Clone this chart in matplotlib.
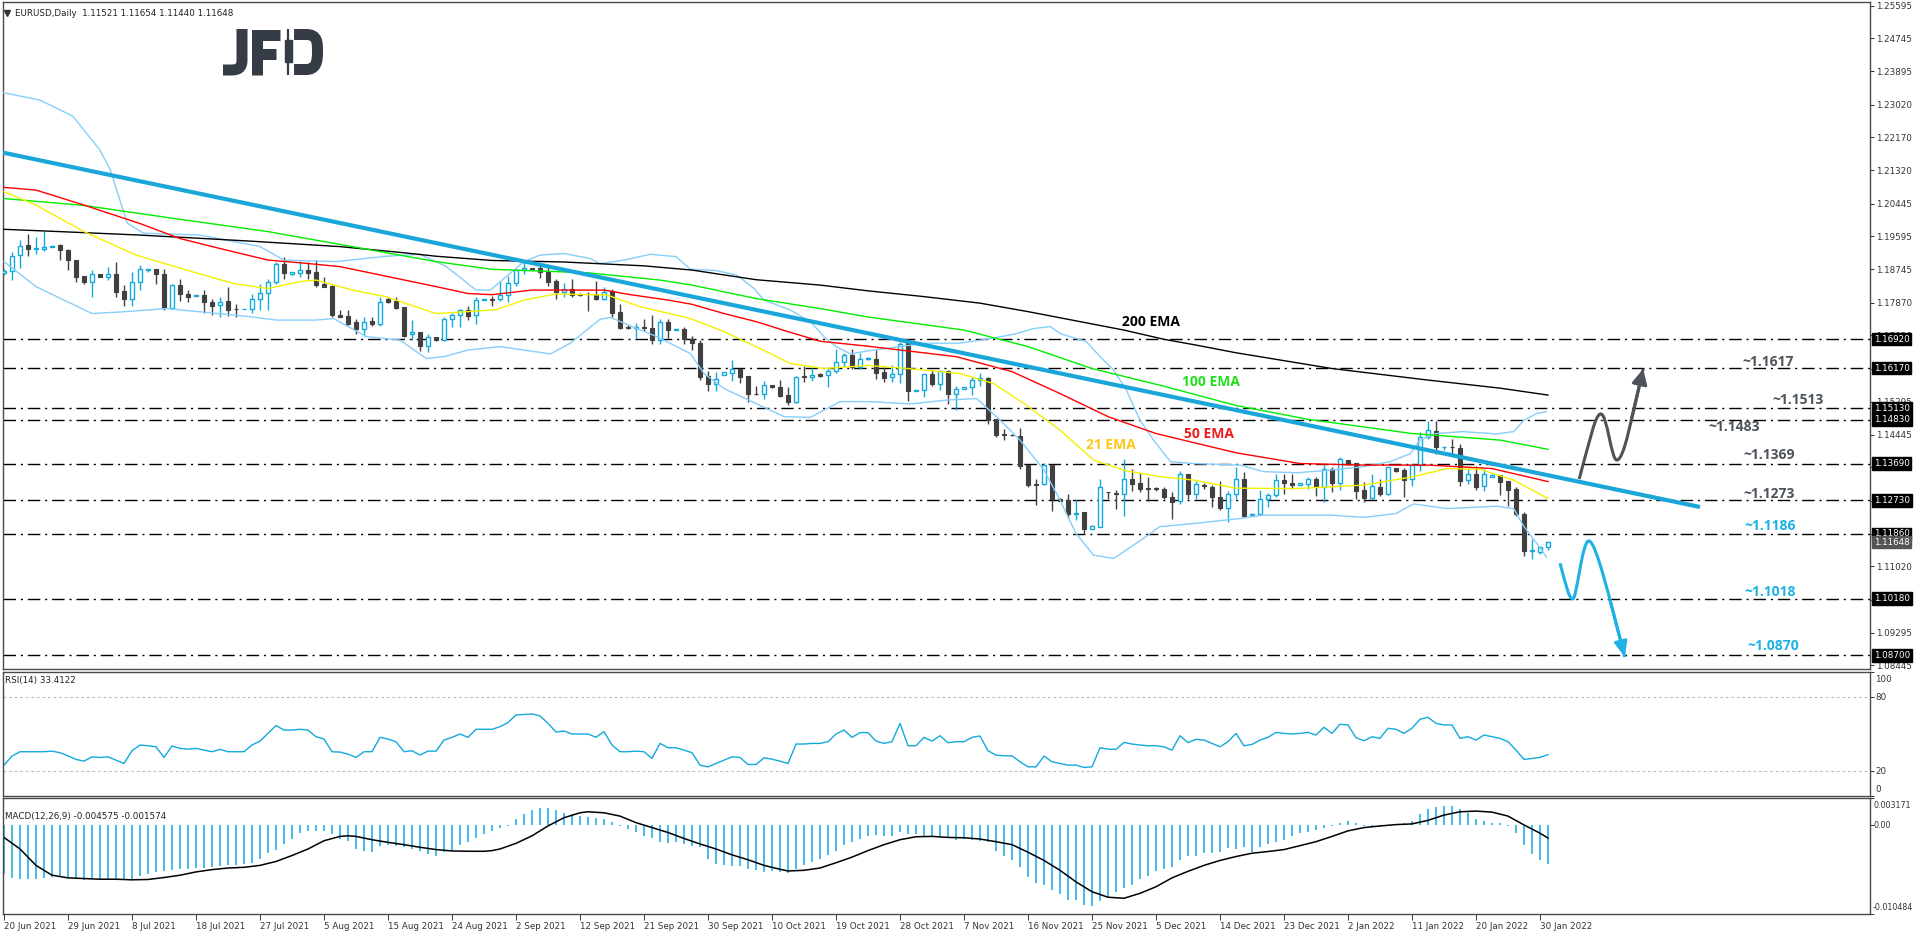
import numpy as np
import matplotlib
matplotlib.use("Agg")
import matplotlib.pyplot as plt
from matplotlib.path import Path
from matplotlib.patches import PathPatch, Rectangle
from matplotlib.transforms import Affine2D

plt.rcParams['font.family'] = ['DejaVu Sans']

# ---------------- data ----------------
date_labels = ['20 Jun 2021', '29 Jun 2021', '8 Jul 2021', '18 Jul 2021', '27 Jul 2021',
               '5 Aug 2021', '15 Aug 2021', '24 Aug 2021', '2 Sep 2021', '12 Sep 2021',
               '21 Sep 2021', '30 Sep 2021', '10 Oct 2021', '19 Oct 2021', '28 Oct 2021',
               '7 Nov 2021', '16 Nov 2021', '25 Nov 2021', '5 Dec 2021', '14 Dec 2021',
               '23 Dec 2021', '2 Jan 2022', '11 Jan 2022', '20 Jan 2022', '30 Jan 2022']

opens = [1.1865, 1.1869, 1.1910, 1.1936, 1.1927, 1.1927, 1.1933, 1.1937, 1.1924, 1.1898,
         1.1856, 1.1842, 1.1862, 1.1855, 1.1862, 1.1817, 1.1796, 1.1842, 1.1872, 1.1875,
         1.1861, 1.1774, 1.1832, 1.1811, 1.1804, 1.1807, 1.1790, 1.1780, 1.1791, 1.1771,
         1.1770, 1.1771, 1.1798, 1.1813, 1.1842, 1.1888, 1.1861, 1.1865, 1.1872, 1.1867,
         1.1835, 1.1830, 1.1755, 1.1752, 1.1737, 1.1719, 1.1739, 1.1733, 1.1796, 1.1792,
         1.1775, 1.1705, 1.1710, 1.1675, 1.1697, 1.1690, 1.1744, 1.1754, 1.1767, 1.1754,
         1.1794, 1.1796, 1.1796, 1.1808, 1.1839, 1.1871, 1.1878, 1.1877, 1.1870, 1.1843,
         1.1816, 1.1822, 1.1810, 1.1810, 1.1809, 1.1797, 1.1817, 1.1762, 1.1723, 1.1722,
         1.1724, 1.1722, 1.1690, 1.1738, 1.1717, 1.1718, 1.1693, 1.1682, 1.1596, 1.1577,
         1.1598, 1.1605, 1.1614, 1.1596, 1.1551, 1.1550, 1.1573, 1.1567, 1.1546, 1.1530,
         1.1596, 1.1595, 1.1603, 1.1598, 1.1609, 1.1632, 1.1651, 1.1621, 1.1640, 1.1642,
         1.1607, 1.1593, 1.1601, 1.1683, 1.1558, 1.1560, 1.1601, 1.1577, 1.1610, 1.1550,
         1.1564, 1.1567, 1.1586, 1.1592, 1.1484, 1.1445, 1.1444, 1.1441, 1.1365, 1.1316,
         1.1315, 1.1365, 1.1278, 1.1274, 1.1239, 1.1242, 1.1200, 1.1205, 1.1296, 1.1292,
         1.1291, 1.1328, 1.1318, 1.1305, 1.1305, 1.1302, 1.1281, 1.1271, 1.1341, 1.1291,
         1.1312, 1.1307, 1.1282, 1.1254, 1.1289, 1.1330, 1.1234, 1.1237, 1.1276, 1.1286,
         1.1326, 1.1319, 1.1313, 1.1317, 1.1328, 1.1309, 1.1356, 1.1319, 1.1378, 1.1371,
         1.1300, 1.1280, 1.1308, 1.1290, 1.1357, 1.1352, 1.1328, 1.1364, 1.1437, 1.1454,
         1.1411, 1.1413, 1.1409, 1.1327, 1.1341, 1.1311, 1.1335, 1.1338, 1.1323, 1.1302,
         1.1239, 1.1142, 1.1138, 1.11521]
highs = [1.1875, 1.1920, 1.1950, 1.1967, 1.1959, 1.1974, 1.1936, 1.1941, 1.1928, 1.1898,
         1.1856, 1.1872, 1.1863, 1.1879, 1.1892, 1.1832, 1.1867, 1.1885, 1.1874, 1.1875,
         1.1876, 1.1837, 1.1848, 1.1820, 1.1806, 1.1820, 1.1798, 1.1801, 1.1827, 1.1783,
         1.1772, 1.1811, 1.1837, 1.1848, 1.1892, 1.1905, 1.1868, 1.1895, 1.1894, 1.1897,
         1.1855, 1.1834, 1.1768, 1.1768, 1.1744, 1.1751, 1.1751, 1.1801, 1.1801, 1.1801,
         1.1777, 1.1742, 1.1712, 1.1707, 1.1697, 1.1751, 1.1761, 1.1772, 1.1778, 1.1801,
         1.1797, 1.1804, 1.1843, 1.1857, 1.1876, 1.1894, 1.1878, 1.1885, 1.1881, 1.1849,
         1.1838, 1.1849, 1.1813, 1.1816, 1.1843, 1.1829, 1.1822, 1.1785, 1.1728, 1.1735,
         1.1746, 1.1755, 1.1746, 1.1744, 1.1719, 1.1725, 1.1701, 1.1690, 1.1609, 1.1606,
         1.1606, 1.1638, 1.1618, 1.1596, 1.1570, 1.1583, 1.1573, 1.1586, 1.1567, 1.1597,
         1.1622, 1.1617, 1.1605, 1.1621, 1.1667, 1.1657, 1.1667, 1.1656, 1.1645, 1.1664,
         1.1619, 1.1625, 1.1686, 1.1688, 1.1561, 1.1603, 1.1612, 1.1612, 1.1611, 1.1570,
         1.1568, 1.1595, 1.1605, 1.1595, 1.1484, 1.1458, 1.1445, 1.1462, 1.1365, 1.1330,
         1.1371, 1.1367, 1.1279, 1.1289, 1.1274, 1.1242, 1.1208, 1.1328, 1.1296, 1.1300,
         1.1381, 1.1356, 1.1345, 1.1335, 1.1309, 1.1309, 1.1296, 1.1350, 1.1341, 1.1323,
         1.1319, 1.1313, 1.1323, 1.1298, 1.1361, 1.1346, 1.1241, 1.1300, 1.1293, 1.1341,
         1.1341, 1.1342, 1.1318, 1.1335, 1.1335, 1.1365, 1.1361, 1.1387, 1.1379, 1.1371,
         1.1322, 1.1343, 1.1330, 1.1361, 1.1357, 1.1357, 1.1371, 1.1450, 1.1480, 1.1480,
         1.1413, 1.1433, 1.1420, 1.1354, 1.1363, 1.1356, 1.1343, 1.1339, 1.1323, 1.1309,
         1.1244, 1.1172, 1.1151, 1.11654]
lows = [1.1860, 1.1846, 1.1878, 1.1908, 1.1915, 1.1922, 1.1932, 1.1898, 1.1872, 1.1842,
        1.1835, 1.1803, 1.1854, 1.1846, 1.1803, 1.1778, 1.1779, 1.1820, 1.1866, 1.1835,
        1.1768, 1.1771, 1.1792, 1.1790, 1.1804, 1.1761, 1.1754, 1.1749, 1.1753, 1.1750,
        1.1770, 1.1761, 1.1768, 1.1769, 1.1836, 1.1848, 1.1860, 1.1855, 1.1849, 1.1827,
        1.1827, 1.1751, 1.1749, 1.1729, 1.1707, 1.1701, 1.1727, 1.1727, 1.1787, 1.1772,
        1.1699, 1.1690, 1.1662, 1.1659, 1.1687, 1.1687, 1.1725, 1.1723, 1.1742, 1.1733,
        1.1794, 1.1778, 1.1792, 1.1790, 1.1831, 1.1862, 1.1875, 1.1851, 1.1831, 1.1797,
        1.1801, 1.1803, 1.1805, 1.1765, 1.1794, 1.1794, 1.1751, 1.1720, 1.1720, 1.1696,
        1.1714, 1.1680, 1.1681, 1.1696, 1.1716, 1.1680, 1.1664, 1.1586, 1.1558, 1.1558,
        1.1598, 1.1584, 1.1578, 1.1528, 1.1547, 1.1537, 1.1566, 1.1543, 1.1522, 1.1527,
        1.1582, 1.1584, 1.1595, 1.1569, 1.1605, 1.1621, 1.1616, 1.1616, 1.1638, 1.1590,
        1.1582, 1.1582, 1.1579, 1.1532, 1.1557, 1.1543, 1.1571, 1.1560, 1.1524, 1.1508,
        1.1563, 1.1547, 1.1570, 1.1472, 1.1439, 1.1430, 1.1441, 1.1354, 1.1307, 1.1261,
        1.1313, 1.1246, 1.1271, 1.1228, 1.1222, 1.1186, 1.1199, 1.1204, 1.1277, 1.1252,
        1.1233, 1.1298, 1.1296, 1.1272, 1.1298, 1.1278, 1.1224, 1.1265, 1.1276, 1.1278,
        1.1304, 1.1257, 1.1248, 1.1218, 1.1278, 1.1229, 1.1232, 1.1235, 1.1257, 1.1281,
        1.1289, 1.1303, 1.1312, 1.1302, 1.1285, 1.1270, 1.1296, 1.1300, 1.1366, 1.1277,
        1.1270, 1.1277, 1.1285, 1.1287, 1.1348, 1.1283, 1.1310, 1.1350, 1.1434, 1.1395,
        1.1404, 1.1391, 1.1311, 1.1316, 1.1300, 1.1298, 1.1334, 1.1287, 1.1258, 1.1233,
        1.1128, 1.1120, 1.1134, 1.11440]
closes = [1.1870, 1.1908, 1.1935, 1.1927, 1.1930, 1.1933, 1.1935, 1.1923, 1.1897, 1.1855,
          1.1842, 1.1861, 1.1855, 1.1861, 1.1816, 1.1796, 1.1842, 1.1874, 1.1874, 1.1861,
          1.1774, 1.1832, 1.1810, 1.1801, 1.1806, 1.1789, 1.1779, 1.1790, 1.1769, 1.1770,
          1.1772, 1.1798, 1.1813, 1.1842, 1.1888, 1.1865, 1.1867, 1.1872, 1.1865, 1.1832,
          1.1829, 1.1755, 1.1751, 1.1731, 1.1719, 1.1738, 1.1733, 1.1790, 1.1790, 1.1774,
          1.1700, 1.1710, 1.1675, 1.1697, 1.1689, 1.1744, 1.1755, 1.1767, 1.1753, 1.1793,
          1.1796, 1.1794, 1.1806, 1.1838, 1.1871, 1.1877, 1.1876, 1.1868, 1.1842, 1.1816,
          1.1822, 1.1807, 1.1808, 1.1809, 1.1797, 1.1816, 1.1761, 1.1722, 1.1722, 1.1725,
          1.1722, 1.1690, 1.1738, 1.1717, 1.1718, 1.1694, 1.1683, 1.1595, 1.1577, 1.1590,
          1.1606, 1.1614, 1.1595, 1.1550, 1.1550, 1.1572, 1.1567, 1.1545, 1.1530, 1.1595,
          1.1594, 1.1598, 1.1597, 1.1609, 1.1632, 1.1651, 1.1621, 1.1640, 1.1643, 1.1605,
          1.1592, 1.1601, 1.1681, 1.1558, 1.1560, 1.1601, 1.1577, 1.1610, 1.1550, 1.1564,
          1.1567, 1.1586, 1.1592, 1.1482, 1.1443, 1.1443, 1.1442, 1.1363, 1.1313, 1.1314,
          1.1365, 1.1277, 1.1272, 1.1239, 1.1241, 1.1200, 1.1207, 1.1307, 1.1294, 1.1289,
          1.1328, 1.1317, 1.1304, 1.1304, 1.1302, 1.1281, 1.1270, 1.1341, 1.1291, 1.1316,
          1.1310, 1.1281, 1.1254, 1.1289, 1.1330, 1.1232, 1.1237, 1.1276, 1.1286, 1.1325,
          1.1319, 1.1312, 1.1318, 1.1328, 1.1309, 1.1356, 1.1319, 1.1382, 1.1368, 1.1298,
          1.1280, 1.1310, 1.1290, 1.1359, 1.1350, 1.1326, 1.1364, 1.1437, 1.1455, 1.1413,
          1.1413, 1.1411, 1.1324, 1.1341, 1.1309, 1.1342, 1.1339, 1.1322, 1.1300, 1.1239,
          1.1142, 1.1145, 1.1151, 1.11648]

ema200_x = [0, 7, 17, 25, 31, 42, 50, 54, 61, 70, 80, 86, 94, 102, 108, 115, 122, 128, 134,
            140, 145, 149, 154, 166, 178, 187, 193]
ema200_y = [1.1978, 1.1972, 1.1963, 1.1954, 1.1947, 1.1933, 1.1917, 1.1908, 1.1897, 1.1893,
            1.1883, 1.1872, 1.1847, 1.1833, 1.1818, 1.1803, 1.1786, 1.1764, 1.1740, 1.1716,
            1.1692, 1.1677, 1.1657, 1.1616, 1.1586, 1.1565, 1.1547]
ema100_x = [0, 10, 21, 33, 43, 54, 61, 73, 82, 86, 94, 102, 108, 120, 128, 136, 145, 154,
            163, 176, 187, 193]
ema100_y = [1.2058, 1.2040, 1.2007, 1.1972, 1.1935, 1.1894, 1.1874, 1.1865, 1.1846, 1.1833,
            1.1798, 1.1772, 1.1750, 1.1716, 1.1673, 1.1616, 1.1570, 1.1520, 1.1484, 1.1447,
            1.1430, 1.1406]
ema50_x = [0, 4, 10, 17, 22, 27, 33, 37, 42, 48, 54, 58, 61, 66, 75, 78, 83, 86, 90, 94,
           98, 102, 108, 119, 126, 132, 138, 144, 154, 162, 170, 178, 186, 193]
ema50_y = [1.2087, 1.2080, 1.2041, 1.1993, 1.1954, 1.1928, 1.1898, 1.1891, 1.1881, 1.1855,
           1.1829, 1.1811, 1.1808, 1.1820, 1.1820, 1.1809, 1.1794, 1.1783, 1.1759, 1.1738,
           1.1712, 1.1687, 1.1674, 1.1647, 1.1608, 1.1551, 1.1491, 1.1447, 1.1397, 1.1369,
           1.1365, 1.1365, 1.1356, 1.1322]
ema21_x = [0, 4, 10, 16.5, 22.5, 28.7, 33, 37, 39, 43.5, 47.7, 54, 58, 61.5, 65, 69, 75.4,
           79.5, 85.8, 90, 94, 98.3, 102.5, 108, 113, 119.5, 123.7, 127.8, 132, 136.2, 140.3,
           144.5, 148.7, 154, 161.6, 170, 176.2, 180.3, 184.5, 188.7, 193]
ema21_y = [1.2076, 1.2041, 1.1972, 1.1911, 1.1874, 1.1837, 1.1824, 1.1842, 1.1846, 1.1820,
           1.1803, 1.1759, 1.1764, 1.1769, 1.1794, 1.1810, 1.1807, 1.1777, 1.1746, 1.1712,
           1.1673, 1.1629, 1.1616, 1.1624, 1.1616, 1.1603, 1.1577, 1.1521, 1.1456, 1.1378,
           1.1350, 1.1335, 1.1326, 1.1305, 1.1304, 1.1313, 1.1335, 1.1356, 1.1354, 1.1326,
           1.1278]

bb_up_x = [-0.5, 4.5, 8.6, 12, 13.3, 15.4, 17.4, 24.5, 32, 35, 41.5, 47.8, 52, 55.3, 59,
           60.8, 65, 67, 70, 73.3, 74.5, 77.5, 80.8, 84, 85.8, 89, 91.6, 93.7, 95, 98.3,
           100.8, 102.5, 104, 105.8, 108.3, 112, 115.3, 119.5, 123.7, 126.6, 128.7, 130.8,
           132, 135.3, 137, 138.7, 140.3, 142, 143.7, 145.8, 148.7, 154.5, 157.4, 161.6,
           165.8, 170, 173.3, 175.8, 177, 179, 182.4, 186.6, 188.7, 190, 191.6, 192.8]
bb_up_y = [1.2335, 1.2314, 1.2272, 1.2184, 1.2132, 1.1994, 1.1968, 1.1963, 1.1933, 1.1898,
           1.1894, 1.1908, 1.1913, 1.1881, 1.1820, 1.1820, 1.1894, 1.1911, 1.1915, 1.1902,
           1.1889, 1.1898, 1.1913, 1.1907, 1.1874, 1.1871, 1.1859, 1.1825, 1.1794, 1.1768,
           1.1738, 1.1699, 1.1673, 1.1654, 1.1663, 1.1673, 1.1682, 1.1682, 1.1695, 1.1707,
           1.1720, 1.1725, 1.1707, 1.1686, 1.1647, 1.1612, 1.1560, 1.1482, 1.1430, 1.1374,
           1.1369, 1.1365, 1.1348, 1.1345, 1.1352, 1.1361, 1.1374, 1.1395, 1.1430, 1.1447,
           1.1452, 1.1446, 1.1452, 1.1482, 1.1499, 1.1504]
bb_lo_x = [0, 4, 11, 15.3, 20.3, 30.7, 34, 39, 41.2, 45.3, 49.5, 52.8, 55, 58, 62, 68.3,
           70.8, 74.5, 75.8, 78.3, 81.6, 85.8, 87.5, 90, 94.1, 97.5, 100.8, 104.5, 108.3,
           113.3, 117.8, 121.6, 124.5, 127, 130, 132, 134, 136.2, 138.7, 142.4, 144.5, 148.7,
           154.5, 157.4, 165.8, 170, 174, 176.2, 180.3, 186.6, 188.7, 190, 191.6, 192.8]
bb_lo_y = [1.1894, 1.1829, 1.1759, 1.1764, 1.1772, 1.1751, 1.1742, 1.1742, 1.1746, 1.1699,
           1.1690, 1.1642, 1.1647, 1.1664, 1.1673, 1.1654, 1.1682, 1.1744, 1.1749, 1.1727,
           1.1699, 1.1655, 1.1603, 1.1564, 1.1524, 1.1491, 1.1489, 1.1530, 1.1530, 1.1524,
           1.1534, 1.1538, 1.1482, 1.1430, 1.1352, 1.1274, 1.1187, 1.1131, 1.1122, 1.1174,
           1.1205, 1.1213, 1.1226, 1.1235, 1.1235, 1.1229, 1.1239, 1.1264, 1.1252, 1.1258,
           1.1252, 1.1205, 1.1161, 1.1126]

trend_x = [-0.5, 212.0]
trend_y = [1.2179, 1.1256]

levels = [1.1692, 1.1617, 1.1513, 1.1483, 1.1369, 1.1273, 1.1186, 1.1018, 1.0870]
level_boxes = ['1.16920', '1.16170', '1.15130', '1.14830', '1.13690', '1.12730', '1.11860',
               '1.10180', '1.08700']
price_ticks = [1.25595, 1.24745, 1.23895, 1.23020, 1.22170, 1.21320, 1.20445, 1.19595,
               1.18745, 1.17870, 1.17020, 1.16145, 1.15295, 1.14445, 1.13595, 1.12720,
               1.11870, 1.11020, 1.10145, 1.09295, 1.08445]
rsi_ticks = [100, 80, 20, 0]
macd_ticks = [0.003171, 0.0, -0.010484]
macd_tick_labels = ['0.003171', '0.00', '-0.010484']

rsi = [24.9, 32.2, 35.7, 35.7, 35.7, 35.7, 36.2, 34.9, 32.4, 29.5,
       28.1, 31.6, 31.1, 31.6, 28.9, 26.2, 36.5, 41.1, 40.5, 39.7,
       31.1, 40.3, 38.4, 37.8, 38.4, 37.0, 35.7, 37.6, 35.7, 35.7,
       35.7, 41.1, 44.3, 50.5, 56.8, 53.2, 53.2, 53.8, 53.2, 47.8,
       45.9, 35.7, 35.4, 33.8, 31.1, 35.7, 35.7, 47.3, 45.9, 43.8,
       35.7, 36.5, 33.0, 36.2, 36.2, 45.1, 47.3, 50.0, 47.3, 53.8,
       53.8, 53.8, 55.9, 59.2, 65.4, 65.7, 66.2, 64.6, 58.6, 51.6,
       52.4, 50.0, 50.0, 50.0, 47.3, 51.9, 41.1, 35.7, 35.7, 36.2,
       35.7, 30.3, 42.4, 38.9, 38.9, 37.0, 34.9, 24.9, 23.5, 26.2,
       28.9, 31.6, 31.1, 25.4, 25.4, 30.8, 29.7, 28.1, 26.2, 41.9,
       41.9, 42.4, 42.4, 43.8, 50.0, 53.2, 47.3, 51.1, 51.1, 44.3,
       42.4, 43.8, 58.6, 40.5, 40.5, 47.3, 44.3, 48.6, 43.0, 43.8,
       43.8, 47.3, 48.4, 36.5, 33.0, 32.4, 32.4, 27.6, 23.5, 23.5,
       32.2, 27.6, 26.2, 24.9, 24.9, 23.0, 23.5, 38.9, 37.8, 37.6,
       43.2, 41.9, 41.1, 40.5, 40.5, 39.7, 37.0, 48.6, 43.0, 45.7,
       45.1, 42.4, 39.7, 43.8, 50.5, 40.5, 41.6, 45.1, 47.3, 51.3,
       50.5, 50.0, 50.5, 51.3, 49.2, 55.4, 50.5, 57.8, 57.3, 47.0,
       44.6, 47.8, 46.5, 54.6, 53.8, 50.5, 54.6, 61.9, 63.5, 58.6,
       57.3, 57.3, 46.5, 47.8, 45.1, 49.2, 47.8, 46.5, 43.8, 37.0,
       29.5, 30.3, 31.1, 33.4]

macd_hist = [-0.00573, -0.00619, -0.00631, -0.00642, -0.00631, -0.00623, -0.00611, -0.00604, -0.00623, -0.00631,
             -0.00650, -0.00642, -0.00642, -0.00646, -0.00646, -0.00654, -0.00642, -0.00600, -0.00573, -0.00553,
             -0.00546, -0.00534, -0.00515, -0.00515, -0.00507, -0.00503, -0.00495, -0.00484, -0.00476, -0.00468,
             -0.00457, -0.00445, -0.00399, -0.00329, -0.00290, -0.00224, -0.00166, -0.00097, -0.00070, -0.00070,
             -0.00070, -0.00108, -0.00166, -0.00186, -0.00283, -0.00302, -0.00313, -0.00244, -0.00236, -0.00244,
             -0.00263, -0.00283, -0.00302, -0.00341, -0.00360, -0.00321, -0.00290, -0.00236, -0.00197, -0.00159,
             -0.00108, -0.00070, -0.00031, -0.00012, 0.00066, 0.00124, 0.00170, 0.00201, 0.00194, 0.00174,
             0.00143, 0.00124, 0.00104, 0.00097, 0.00085, 0.00066, 0.00035, -0.00012, -0.00050, -0.00089,
             -0.00128, -0.00159, -0.00205, -0.00213, -0.00205, -0.00224, -0.00244, -0.00263, -0.00399, -0.00457,
             -0.00476, -0.00484, -0.00488, -0.00515, -0.00534, -0.00553, -0.00545, -0.00553, -0.00565, -0.00515,
             -0.00476, -0.00437, -0.00399, -0.00348, -0.00302, -0.00232, -0.00205, -0.00166, -0.00128, -0.00120,
             -0.00128, -0.00135, -0.00089, -0.00108, -0.00108, -0.00128, -0.00135, -0.00147, -0.00159, -0.00174,
             -0.00166, -0.00178, -0.00186, -0.00205, -0.00302, -0.00360, -0.00418, -0.00495, -0.00611, -0.00689,
             -0.00708, -0.00766, -0.00817, -0.00882, -0.00882, -0.00940, -0.00960, -0.00894, -0.00844, -0.00786,
             -0.00747, -0.00708, -0.00631, -0.00600, -0.00546, -0.00515, -0.00495, -0.00418, -0.00360, -0.00360,
             -0.00329, -0.00329, -0.00321, -0.00275, -0.00283, -0.00263, -0.00321, -0.00263, -0.00224, -0.00205,
             -0.00174, -0.00128, -0.00097, -0.00081, -0.00058, -0.00031, -0.00012, 0.00019, 0.00046, 0.00019,
             -0.00012, -0.00019, -0.00012, -0.00004, 0.00008, 0.00027, 0.00046, 0.00124, 0.00190, 0.00213,
             0.00228, 0.00228, 0.00190, 0.00143, 0.00074, 0.00046, 0.00027, 0.00019, -0.00012, -0.00097,
             -0.00232, -0.00341, -0.00410, -0.004575]
sig_x = [0, 2, 4, 6, 8, 10, 12, 14, 16, 18, 20, 22, 24, 26, 28, 30, 32, 34, 36, 38,
         40, 42, 43, 44, 46, 48, 50, 52, 54, 56, 58, 60, 61, 62, 64, 66, 68, 70, 72, 73,
         75, 77, 79, 81, 83, 85, 87, 89, 91, 93, 95, 97, 98, 100, 102, 104, 106, 108, 110, 112,
         114, 116, 118, 120, 122, 124, 126, 128, 130, 132, 134, 136, 138, 140, 142, 144, 146, 148, 150, 152,
         154, 156, 158, 160, 162, 164, 166, 168, 170, 172, 174, 176, 178, 180, 182, 184, 186, 188, 190, 192,
         193]
sig_y = [-0.00147, -0.00283, -0.00476, -0.00592, -0.00623, -0.00631, -0.00639, -0.00639, -0.00646, -0.00642,
         -0.00619, -0.00592, -0.00553, -0.00526, -0.00507, -0.00499, -0.00476, -0.00430, -0.00360, -0.00283,
         -0.00186, -0.00135, -0.00128, -0.00135, -0.00174, -0.00205, -0.00232, -0.00263, -0.00290, -0.00306,
         -0.00310, -0.00310, -0.00302, -0.00283, -0.00217, -0.00128, -0.00012, 0.00085, 0.00143, 0.00155,
         0.00143, 0.00104, 0.00027, -0.00031, -0.00089, -0.00159, -0.00224, -0.00283, -0.00352, -0.00410,
         -0.00476, -0.00522, -0.00542, -0.00534, -0.00507, -0.00445, -0.00379, -0.00302, -0.00232, -0.00174,
         -0.00139, -0.00135, -0.00147, -0.00151, -0.00166, -0.00197, -0.00232, -0.00321, -0.00418, -0.00534,
         -0.00670, -0.00786, -0.00851, -0.00863, -0.00805, -0.00728, -0.00623, -0.00546, -0.00476, -0.00418,
         -0.00372, -0.00333, -0.00313, -0.00290, -0.00244, -0.00197, -0.00135, -0.00070, -0.00031, -0.00012,
         0.00004, 0.00012, 0.00054, 0.00116, 0.00155, 0.00163, 0.00151, 0.00104, 0.0, -0.00097,
         -0.00155]

# hand-drawn scenario arrows (bar, price) : start, then bezier triples
up_arrow_x = [196.9, 198.25, 198.9, 199.6, 200.4, 200.9, 201.6, 202.5, 203.4, 204.9]
up_arrow_y = [1.1329, 1.1430, 1.1498, 1.1498, 1.1498, 1.1378, 1.1378, 1.1378, 1.1482, 1.1615]
dn_arrow_x = [194.5, 195.25, 195.6, 196.1, 196.6, 197.25, 198.1, 199.0, 200.75, 202.6]
dn_arrow_y = [1.1110, 1.1053, 1.1017, 1.1017, 1.1017, 1.1168, 1.1168, 1.1168, 1.1014, 1.0866]

# ---------------- styling ----------------
BLUE = '#12a9dc'
DARK = '#404040'
FRAME = '#4a4a4a'
GREY_TXT = '#4d535b'
LBL_BLUE = '#1db2e3'
W, H = 1916, 936
XMIN, XMAX = -0.125, 233.25
fs = 6.3


def rect(l, t, r, b):
    return [l / W, 1 - b / H, (r - l) / W, (b - t) / H]


fig = plt.figure(figsize=(W / 100, H / 100), dpi=100)
ax = fig.add_axes(rect(3, 2, 1870, 669))
ax_rsi = fig.add_axes(rect(3, 672, 1870, 796))
ax_macd = fig.add_axes(rect(3, 798, 1870, 914))

for a in (ax, ax_rsi, ax_macd):
    a.set_xlim(XMIN, XMAX)
    for s in a.spines.values():
        s.set_color(FRAME)
        s.set_linewidth(1.0)
    a.yaxis.tick_right()
    a.tick_params(axis='y', direction='out', length=3, width=0.7, colors='#333333',
                  labelsize=fs, pad=1.5)
    a.tick_params(axis='x', bottom=False, labelbottom=False)

# ---------------- main price panel ----------------
ax.set_ylim(1.08348, 1.25690)
ax.set_yticks(price_ticks)
ax.set_yticklabels(['%.5f' % v for v in price_ticks])

for lv in levels:
    ax.axhline(lv, color='black', lw=1.0, dashes=(9, 3.5, 1.5, 3.5), zorder=1)

idx = np.arange(len(closes))
o, h, l, c = (np.array(v) for v in (opens, highs, lows, closes))
up = c >= o
lo_b = np.minimum(o, c)
hb = np.maximum(np.abs(c - o), 0.00003)
ax.vlines(idx[up], l[up], h[up], color=BLUE, lw=1.0, zorder=3)
ax.vlines(idx[~up], l[~up], h[~up], color=DARK, lw=1.0, zorder=3)
ax.bar(idx[up], hb[up], bottom=lo_b[up], width=0.62, facecolor='white', edgecolor=BLUE,
       lw=1.0, zorder=4)
ax.bar(idx[~up], hb[~up], bottom=lo_b[~up], width=0.62, facecolor=DARK, edgecolor=DARK,
       lw=0.8, zorder=4)

ax.plot(bb_up_x, bb_up_y, color='#87cefa', lw=1.0, zorder=5)
ax.plot(bb_lo_x, bb_lo_y, color='#87cefa', lw=1.0, zorder=5)
ax.plot(ema200_x, ema200_y, color='black', lw=1.0, zorder=5)
ax.plot(ema100_x, ema100_y, color='#00ee00', lw=1.0, zorder=5)
ax.plot(ema50_x, ema50_y, color='#ff0000', lw=1.0, zorder=5)
ax.plot(ema21_x, ema21_y, color='#f2f200', lw=1.0, zorder=5)
ax.plot(trend_x, trend_y, color='#1aa6d8', lw=3.0, solid_capstyle='butt', zorder=6)

lbl = dict(fontsize=10, fontweight='bold', family=['Open Sans', 'DejaVu Sans'],
           va='center', ha='left', zorder=8)
ax.text(139.75, 1.1737, '200 EMA', color='black', **lbl)
ax.text(147.25, 1.1581, '100 EMA', color='#22e01f', **lbl)
ax.text(147.5, 1.1446, '50 EMA', color='#ee1c1c', **lbl)
ax.text(135.25, 1.1417, '21 EMA', color='#ffc61a', **lbl)
for txt, xx, yy, col in [('~1.1617', 217.25, 1.1633, GREY_TXT), ('~1.1513', 221.1, 1.1534, GREY_TXT),
                         ('~1.1483', 213.0, 1.1464, GREY_TXT), ('~1.1369', 217.4, 1.1391, GREY_TXT),
                         ('~1.1273', 217.4, 1.1290, GREY_TXT), ('~1.1186', 217.5, 1.1207, LBL_BLUE),
                         ('~1.1018', 217.6, 1.1035, LBL_BLUE), ('~1.0870', 217.9, 1.0895, LBL_BLUE)]:
    ax.text(xx, yy, txt, color=col, **lbl)

# scenario arrows
codes = [Path.MOVETO] + [Path.CURVE4] * 9
for xs, ys, col, hw in [(up_arrow_x, up_arrow_y, GREY_TXT, 0.38), (dn_arrow_x, dn_arrow_y, LBL_BLUE, 0.32)]:
    pth = Path(np.column_stack([xs, ys]), codes)
    ax.add_patch(PathPatch(pth, fc='none', ec=col, lw=2.2, zorder=7, capstyle='butt'))
    ax.annotate('', xy=(xs[-1], ys[-1]), xytext=(xs[-2], ys[-2]),
                arrowprops=dict(arrowstyle='-|>,head_length=0.75,head_width=%.2f' % hw,
                                mutation_scale=12, color=col, lw=2.2, shrinkA=0, shrinkB=0),
                zorder=7)

# right-hand price boxes
xbox = 1 + 4 / 1867
for lv, s in zip(levels, level_boxes):
    ax.text(xbox, lv, s, transform=ax.get_yaxis_transform(), color='white', fontsize=fs,
            va='center', ha='left', zorder=10, clip_on=False,
            bbox=dict(boxstyle='square,pad=0.18', fc='black', ec='black'))
ax.text(xbox, closes[-1], '%.5f' % closes[-1], transform=ax.get_yaxis_transform(),
        color='white', fontsize=fs, va='center', ha='left', zorder=10, clip_on=False,
        bbox=dict(boxstyle='square,pad=0.18', fc='#555555', ec='#555555'))

ax.text(0.0062, 0.9835, 'EURUSD,Daily  1.11521 1.11654 1.11440 1.11648', transform=ax.transAxes,
        fontsize=fs, va='center', ha='left', color='#222222')
ax.plot([0.0022], [0.9835], marker='v', ms=4, color='#333333', transform=ax.transAxes,
        clip_on=False)

# ---------------- scale labels for the sub-panels (figure pixel coords) ----------------
px = Affine2D().scale(1 / W, -1 / H).translate(0, 1) + fig.transFigure
for s, yy in zip([str(v) for v in rsi_ticks], [679, 697, 771, 789]):
    fig.text(1875 / W, 1 - yy / H, s, fontsize=fs, va='center', ha='left', color='#333333')
for s, yy in zip(macd_tick_labels, [806, 826, 908]):
    fig.text(1873 / W, 1 - yy / H, s, fontsize=5.7, va='center', ha='left', color='#333333')

# ---------------- RSI panel ----------------
ax_rsi.set_ylim(0, 100)
ax_rsi.set_yticks(rsi_ticks)
ax_rsi.tick_params(axis='y', labelright=False)
for lv in (20, 80):
    ax_rsi.axhline(lv, color='#bdbdbd', lw=0.8, dashes=(2.5, 2.5))
ax_rsi.plot(idx, rsi, color=BLUE, lw=1.0)
ax_rsi.text(0.0012, 0.93, 'RSI(14) 33.4122', transform=ax_rsi.transAxes, fontsize=fs,
            va='center', ha='left', color='#222222')

# ---------------- MACD panel ----------------
ax_macd.set_ylim(-0.010484, 0.003171)
ax_macd.set_yticks(macd_ticks)
ax_macd.tick_params(axis='y', labelright=False)
ax_macd.vlines(idx, 0, macd_hist, color=BLUE, lw=1.1)
ax_macd.plot(sig_x, sig_y, color='black', lw=1.1)
ax_macd.text(0.0012, 0.84, 'MACD(12,26,9) -0.004575 -0.001574', transform=ax_macd.transAxes,
             fontsize=fs, va='center', ha='left', color='#222222')
ax_macd.set_xticks(np.arange(0, 8 * len(date_labels), 8))
ax_macd.set_xticklabels(date_labels, ha='left')
ax_macd.tick_params(axis='x', bottom=True, labelbottom=True, direction='out', length=4,
                    width=0.7, colors='#333333', labelsize=fs, pad=2)

# ---------------- JFD logo (figure pixel coords) ----------------
LOGO = '#363c46'
sw = 11 * 72 / 100
logo_paths = [
    Path([(242, 29), (242, 60), (242, 68), (238, 70), (231, 70), (223, 70)],
         [Path.MOVETO, Path.LINETO, Path.CURVE4, Path.CURVE4, Path.CURVE4, Path.LINETO]),
    Path([(257.5, 75), (257.5, 34.5), (280, 34.5)], [Path.MOVETO, Path.LINETO, Path.LINETO]),
    Path([(257.5, 54), (276, 54)], [Path.MOVETO, Path.LINETO]),
    Path([(294, 34.5), (306, 34.5), (317.5, 34.5), (317.5, 42), (317.5, 52), (317.5, 62),
          (316, 69.5), (306, 69.5), (294, 69.5)],
         [Path.MOVETO, Path.LINETO, Path.CURVE4, Path.CURVE4, Path.CURVE4, Path.CURVE4,
          Path.CURVE4, Path.CURVE4, Path.LINETO]),
]
for p in logo_paths:
    fig.add_artist(PathPatch(p, fc='none', ec=LOGO, lw=sw, capstyle='butt', joinstyle='miter',
                             transform=px))
fig.add_artist(PathPatch(Path([(288.5, 29), (288.5, 75)]), ec=LOGO, lw=1.6, transform=px))
fig.add_artist(Rectangle((285, 40), 7, 22, fc=LOGO, ec=LOGO, transform=px))

fig.savefig('out.png', dpi=100, facecolor='white')
